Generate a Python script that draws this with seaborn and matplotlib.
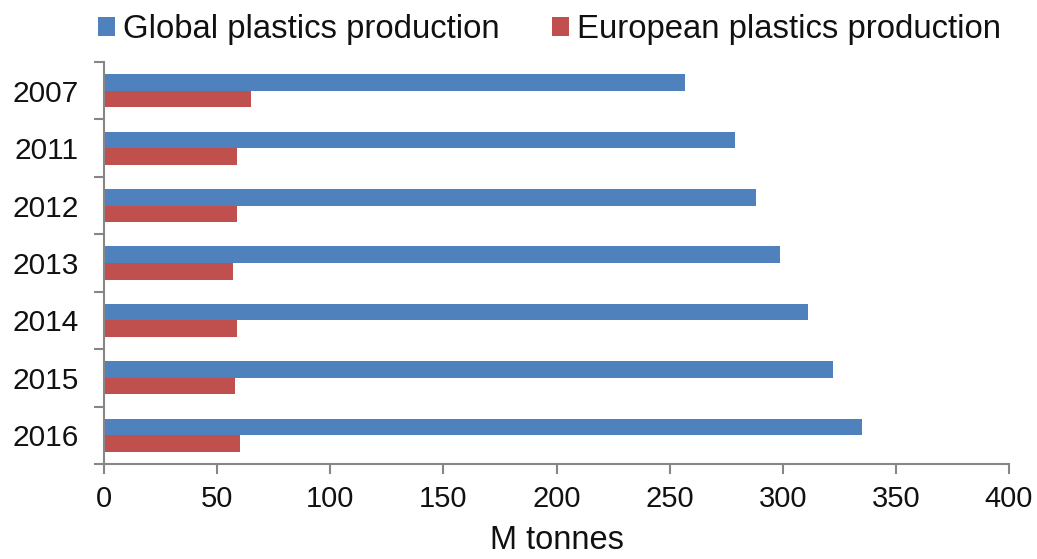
import matplotlib
matplotlib.use("Agg")
import matplotlib.pyplot as plt
from matplotlib.patches import Patch
from matplotlib.ticker import FixedLocator
import pandas as pd
import seaborn as sns

# Plastics production, million tonnes
years = ["2007", "2011", "2012", "2013", "2014", "2015", "2016"]
global_production = [257, 279, 288, 299, 311, 322, 335]
european_production = [65, 59, 59, 57, 59, 58, 60]
series_names = ["Global plastics production", "European plastics production"]
x_ticks = [0, 50, 100, 150, 200, 250, 300, 350, 400]

df = pd.DataFrame({
    "year": years * 2,
    "value": global_production + european_production,
    "series": [series_names[0]] * len(years) + [series_names[1]] * len(years),
})

sns.set_theme(style="white")
plt.rcParams["font.family"] = ["Liberation Sans", "DejaVu Sans"]

colors = ["#4F81BD", "#C0504D"]
spine_color = "#868686"
text_color = "#111111"

fig = plt.figure(figsize=(10.37, 5.59), dpi=100)
ax = fig.add_axes([0.1003, 0.170, 0.8727, 0.719])

sns.barplot(data=df, y="year", x="value", hue="series", order=years,
            hue_order=series_names, palette=colors, orient="h",
            width=0.58, saturation=1, linewidth=0, ax=ax, legend=False)

ax.set_xlim(0, 400)
ax.set_ylim(len(years) - 0.5, -0.5)
ax.xaxis.set_major_locator(FixedLocator(x_ticks))
ax.set_xticklabels([str(t) for t in x_ticks], fontsize=21)

# Category labels without marks; marks sit on the category boundaries
ax.set_yticks(range(len(years)))
ax.set_yticklabels(years, fontsize=21.5)
ax.yaxis.set_minor_locator(FixedLocator([i - 0.5 for i in range(len(years) + 1)]))
ax.tick_params(axis="y", which="major", length=0, pad=18, labelcolor=text_color)
ax.tick_params(axis="y", which="minor", length=7, width=1.5, color=spine_color, left=True)
ax.tick_params(axis="x", which="major", length=7, width=1.5, color=spine_color,
               bottom=True, pad=8, labelcolor=text_color)

ax.set_xlabel("M tonnes", fontsize=23.5, color=text_color, labelpad=9)
ax.set_ylabel("")

for side in ["top", "right"]:
    ax.spines[side].set_visible(False)
for side in ["left", "bottom"]:
    ax.spines[side].set_color(spine_color)
    ax.spines[side].set_linewidth(1.5)

handles = [Patch(facecolor=c, edgecolor="none") for c in colors]
fig.legend(handles, series_names, loc="center", bbox_to_anchor=(0.53, 0.947),
           ncol=2, frameon=False, fontsize=23.7, handlelength=0.5, handleheight=0.5,
           handletextpad=0.25, columnspacing=1.6, labelcolor=text_color)

fig.savefig("out.png", dpi=100, facecolor="white")
